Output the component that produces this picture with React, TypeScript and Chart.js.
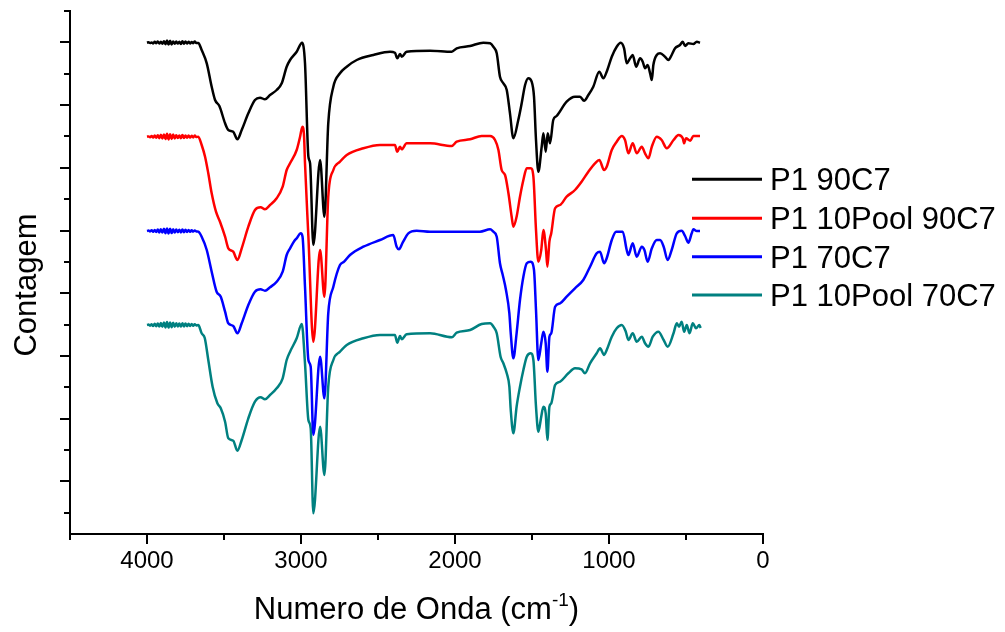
import { useEffect, useRef } from 'react';
import { Chart, registerables } from 'chart.js';

Chart.register(...registerables);

// ---- Data (wavenumber in cm^-1, intensity in arbitrary counts) ----
const noiseWn = [4000, 3990, 3980, 3970, 3960, 3950, 3940, 3930, 3920, 3910, 3900, 3890, 3880, 3870, 3860, 3850, 3840, 3830, 3820, 3810, 3800, 3790, 3780, 3770, 3760, 3750, 3740, 3730, 3720, 3710, 3700, 3690, 3680];

const blackNoise = [501.3, 501.8, 500.9, 501.6, 500.6, 502.2, 500.8, 502.5, 500.5, 502.3, 500.2, 502.8, 499.8, 503.4, 499.4, 503.2, 499.5, 502.6, 500.2, 502.4, 500.4, 502.2, 500.0, 502.8, 500.2, 502.6, 500.4, 502.2, 500.6, 502.0, 500.8, 502.4, 501.0];
const blackWn = [...noiseWn, 3667, 3645, 3612, 3580, 3558, 3530, 3493, 3472, 3440, 3413, 3385, 3342, 3299, 3266, 3234, 3201, 3158, 3125, 3093, 3071, 3028, 2993, 2974, 2952, 2941, 2920, 2876, 2848, 2823, 2790, 2747, 2703, 2638, 2530, 2422, 2390, 2375, 2357, 2346, 2314, 2162, 2021, 1989, 1902, 1816, 1772, 1751, 1729, 1708, 1686, 1664, 1643, 1621, 1589, 1567, 1545, 1524, 1502, 1487, 1474, 1459, 1437, 1426, 1411, 1398, 1383, 1362, 1340, 1275, 1221, 1188, 1162, 1134, 1102, 1063, 1037, 1015, 982, 950, 924, 902, 885, 863, 846, 824, 798, 781, 766, 749, 733, 722, 712, 690, 668, 636, 614, 593, 571, 539, 521, 506, 485, 452, 430, 409];
const blackVal = [...blackNoise, 501, 494, 480.7, 457.3, 444, 438, 420.7, 414, 412.3, 404.7, 414, 430.7, 444, 446.3, 444.7, 449, 454, 460.7, 477.3, 484, 492.3, 501.3, 480.7, 387.3, 380.7, 299, 384, 327.3, 420.7, 457.3, 470.7, 477.3, 484, 489, 492.3, 491.3, 485.7, 490, 487.3, 492.3, 493.3, 492.3, 495.7, 498, 501.3, 500.7, 497.3, 490.7, 467.3, 460.7, 454, 430.7, 405.7, 424, 440.7, 459, 465.7, 462.3, 447.3, 404, 372.3, 397.3, 410.7, 392.3, 410.7, 400.7, 424, 428, 442.3, 447.3, 447.3, 443.3, 449, 457.3, 472.3, 465.7, 472.3, 487.3, 497.3, 501.3, 495.7, 480.7, 485.7, 489, 477.3, 485.7, 482.3, 475.7, 479, 470.7, 464, 479, 489, 490.7, 487.3, 484, 489, 495.7, 499, 502.3, 498, 500.7, 500, 502.3, 501.3];

const redNoise = [407.3, 407.6, 406.8, 408.0, 406.4, 408.4, 406.2, 408.8, 405.8, 409.2, 405.6, 409.6, 405.0, 410.2, 404.6, 409.8, 405.0, 409.4, 405.6, 408.8, 406.0, 408.6, 405.8, 409.0, 406.0, 408.6, 406.2, 408.4, 406.4, 408.2, 406.6, 408.4, 407.0];
const redWn = [...noiseWn, 3667, 3645, 3623, 3602, 3580, 3552, 3526, 3493, 3472, 3440, 3413, 3385, 3342, 3299, 3262, 3234, 3201, 3158, 3119, 3093, 3071, 3028, 3006, 2991, 2980, 2974, 2952, 2920, 2876, 2848, 2823, 2790, 2747, 2703, 2595, 2487, 2390, 2375, 2357, 2346, 2314, 2162, 2021, 1989, 1902, 1827, 1772, 1740, 1718, 1697, 1675, 1653, 1632, 1621, 1600, 1578, 1556, 1534, 1508, 1491, 1474, 1459, 1440, 1426, 1409, 1400, 1387, 1375, 1350, 1318, 1275, 1221, 1178, 1134, 1091, 1063, 1032, 1015, 982, 950, 917, 896, 874, 846, 820, 787, 766, 744, 722, 690, 658, 625, 581, 549, 521, 512, 500, 472, 452, 409];
const redVal = [...redNoise, 407.3, 399, 387.3, 370.7, 350.7, 332.3, 322.3, 307.3, 295.7, 292.3, 284, 295.7, 317.3, 334, 336.7, 334.7, 339, 345.7, 357.3, 374, 380.7, 394, 407.3, 417.3, 407.3, 380.7, 307.3, 202.3, 294, 247.3, 347.3, 374, 382.3, 389, 395.7, 399, 399, 392.3, 397.3, 394.7, 400.7, 400.7, 398, 402.3, 404.7, 408, 408, 404, 394, 374, 369, 350.7, 327.3, 317.3, 327.3, 347.3, 364, 375.7, 375.7, 367.3, 314, 282.3, 294, 314, 294, 277.3, 302.3, 310.7, 335.7, 339, 347.3, 354, 362.3, 372.3, 380.7, 384, 374, 377.3, 394, 402.3, 408, 404, 390.7, 400.7, 390.7, 397.3, 390.7, 385.7, 397.3, 407.3, 404, 395.7, 404, 409, 405.7, 400.7, 405.7, 403.3, 408, 408];

const blueNoise = [313.0, 313.4, 312.6, 313.8, 312.2, 314.0, 312.0, 314.4, 311.6, 314.8, 311.4, 315.2, 310.8, 315.6, 310.6, 315.2, 311.0, 314.8, 311.4, 314.4, 311.8, 314.2, 311.6, 314.6, 311.8, 314.2, 312.0, 314.0, 312.2, 313.8, 312.4, 313.6, 312.6];
const blueWn = [...noiseWn, 3667, 3645, 3612, 3580, 3548, 3521, 3493, 3472, 3440, 3413, 3385, 3342, 3299, 3262, 3234, 3201, 3158, 3119, 3093, 3071, 3039, 3028, 3002, 2990, 2974, 2952, 2937, 2920, 2876, 2848, 2823, 2790, 2747, 2720, 2682, 2595, 2487, 2401, 2379, 2364, 2340, 2303, 2249, 2162, 1838, 1772, 1751, 1729, 1708, 1690, 1669, 1647, 1638, 1621, 1600, 1578, 1556, 1534, 1508, 1487, 1474, 1459, 1440, 1426, 1411, 1400, 1387, 1375, 1350, 1318, 1275, 1221, 1167, 1123, 1080, 1058, 1032, 1015, 982, 954, 911, 885, 874, 846, 820, 787, 770, 749, 722, 690, 668, 645, 619, 593, 560, 528, 506, 485, 463, 452, 430, 409];
const blueVal = [...blueNoise, 312.3, 307.3, 294, 272.3, 252.3, 247.3, 232.3, 220.7, 218, 210.7, 220.7, 239, 252.3, 254.7, 253.3, 256.7, 262.3, 272.3, 289, 295.7, 304, 305.7, 310.7, 307.3, 257.3, 184, 177.3, 109, 187.3, 145.7, 230.7, 257.3, 279, 282.3, 289, 297.3, 304, 309, 297.3, 294.7, 301.3, 310.7, 313.3, 312.3, 312.3, 314.7, 312.3, 307.3, 280.7, 269, 254, 230.7, 210.7, 185.7, 210.7, 244, 267.3, 280.7, 282.3, 274, 234, 184, 200.7, 212.3, 200.7, 172.3, 207.3, 210.7, 237.3, 240.7, 247.3, 255.7, 264, 277.3, 290.7, 292.3, 280.7, 285.7, 304, 312.3, 312.3, 294, 289, 300.7, 287.3, 297.3, 294, 282.3, 295.7, 304, 304, 297.3, 284, 294, 310.7, 313.3, 308, 301.3, 310.7, 314.7, 313, 313];

const tealNoise = [219.0, 219.4, 218.4, 219.8, 218.0, 220.2, 217.8, 220.6, 217.4, 221.0, 217.2, 221.4, 216.6, 222.0, 216.4, 221.6, 216.8, 221.2, 217.2, 220.8, 217.6, 220.4, 217.4, 220.8, 217.6, 220.4, 217.8, 220.2, 218.0, 220.0, 218.2, 219.8, 218.6];
const tealWn = [...noiseWn, 3667, 3645, 3625, 3602, 3574, 3543, 3521, 3493, 3472, 3440, 3413, 3385, 3342, 3299, 3262, 3234, 3201, 3158, 3119, 3093, 3071, 3028, 2995, 2974, 2952, 2937, 2920, 2876, 2848, 2823, 2790, 2747, 2703, 2595, 2487, 2390, 2375, 2357, 2346, 2314, 2162, 2021, 1989, 1902, 1827, 1772, 1750, 1729, 1704, 1686, 1664, 1647, 1638, 1621, 1600, 1578, 1556, 1534, 1508, 1491, 1474, 1459, 1440, 1426, 1411, 1400, 1387, 1375, 1350, 1318, 1264, 1221, 1178, 1156, 1123, 1080, 1058, 1032, 1015, 982, 950, 917, 891, 874, 846, 820, 787, 766, 744, 716, 679, 645, 619, 581, 560, 545, 528, 512, 495, 477, 456, 435, 413, 405];
const tealVal = [...tealNoise, 219, 210.7, 206, 184, 157.3, 140.7, 135.7, 122.3, 105.7, 103.3, 93.3, 104, 125.7, 142.3, 146.7, 144.7, 149, 155.7, 165.7, 184, 192.3, 205.7, 220, 180.7, 124, 115.7, 30.7, 117.3, 69, 157.3, 184, 192.3, 199, 205.7, 209, 209, 201.3, 208, 204.7, 209.7, 210.7, 206.7, 211.3, 214, 220, 220.7, 217.3, 210.7, 187.3, 180.7, 170.7, 157.3, 134, 110.7, 137.3, 157.3, 174, 187.3, 190.7, 184, 137.3, 112.3, 127.3, 137.3, 130.7, 104, 137.3, 140.7, 159, 162.3, 170.7, 175.7, 174.7, 170.7, 180.7, 190.7, 195.7, 189, 194, 207.3, 215.7, 219, 212.3, 204, 210.7, 202.3, 207.3, 200.7, 197.3, 207.3, 212.3, 204, 197.3, 210.7, 220.7, 217.3, 222.3, 212.3, 219, 210.7, 220.7, 215.7, 219, 216];

const seriesLabels = ['P1 90C7', 'P1 10Pool 90C7', 'P1 70C7', 'P1 10Pool 70C7'];
const seriesColors = ['#000000', '#ff0000', '#0000ff', '#008080'];

const xMajorTicks = [4000, 3000, 2000, 1000, 0];
const xMinorTicks = [4500, 3500, 2500, 1500, 500];
const yMajorTicks = [62.7, 125.4, 188.1, 250.8, 313.5, 376.2, 438.9, 501.6];
const yMinorTicks = [31.35, 94.05, 156.75, 219.45, 282.15, 344.85, 407.55, 470.25, 532.95];

const xTitle = 'Numero de Onda (cm';
const xTitleSup = '-1';
const yTitle = 'Contagem';

const FONT = "'Liberation Sans', Arial, sans-serif";

function toPoints(xs: number[], ys: number[]) {
  return xs.map((x, i) => ({ x, y: ys[i] }));
}

const decorPlugin = {
  id: 'decor',
  afterDraw(chart: any) {
    const ctx = chart.ctx;
    const xs = chart.scales.x;
    const ys = chart.scales.y;
    const area = chart.chartArea;
    ctx.save();
    ctx.strokeStyle = '#000';
    ctx.lineWidth = 2;
    ctx.lineCap = 'butt';
    const drawX = (v: number, len: number) => {
      const px = Math.round(xs.getPixelForValue(v));
      ctx.beginPath();
      ctx.moveTo(px, area.bottom);
      ctx.lineTo(px, area.bottom + len);
      ctx.stroke();
    };
    xMajorTicks.forEach((v) => drawX(v, 10));
    xMinorTicks.forEach((v) => drawX(v, 6));
    const drawY = (v: number, len: number) => {
      const py = Math.round(ys.getPixelForValue(v));
      ctx.beginPath();
      ctx.moveTo(area.left, py);
      ctx.lineTo(area.left - len, py);
      ctx.stroke();
    };
    yMajorTicks.forEach((v) => drawY(v, 10));
    yMinorTicks.forEach((v) => drawY(v, 6));

    ctx.fillStyle = '#000';
    ctx.textBaseline = 'alphabetic';
    ctx.textAlign = 'left';
    const big = `31px ${FONT}`;
    const small = `19px ${FONT}`;
    ctx.font = big;
    const w1 = ctx.measureText(xTitle).width;
    const w3 = ctx.measureText(')').width;
    ctx.font = small;
    const w2 = ctx.measureText(xTitleSup).width;
    const total = w1 + w2 + w3;
    const cx = (area.left + area.right) / 2;
    let sx = cx - total / 2;
    const base = 619;
    ctx.font = big;
    ctx.fillText(xTitle, sx, base);
    sx += w1;
    ctx.font = small;
    ctx.fillText(xTitleSup, sx, base - 13);
    sx += w2;
    ctx.font = big;
    ctx.fillText(')', sx, base);

    ctx.save();
    ctx.translate(36, 285);
    ctx.rotate(-Math.PI / 2);
    ctx.textAlign = 'center';
    ctx.textBaseline = 'alphabetic';
    ctx.font = big;
    ctx.fillText(yTitle, 0, 0);
    ctx.restore();

    const legendY = [179.3, 218.3, 256.7, 295];
    chart.data.datasets.forEach((ds: any, i: number) => {
      const y = legendY[i];
      ctx.strokeStyle = ds.borderColor;
      ctx.lineWidth = 3;
      ctx.beginPath();
      ctx.moveTo(692, y);
      ctx.lineTo(762, y);
      ctx.stroke();
      ctx.fillStyle = '#000';
      ctx.font = big;
      ctx.textAlign = 'left';
      ctx.textBaseline = 'alphabetic';
      ctx.fillText(ds.label, 770, y + 11);
    });
    ctx.restore();
  },
};

export default function App() {
  const ref = useRef<HTMLCanvasElement | null>(null);
  useEffect(() => {
    if (!ref.current) return;
    const series = [
      toPoints(blackWn, blackVal),
      toPoints(redWn, redVal),
      toPoints(blueWn, blueVal),
      toPoints(tealWn, tealVal),
    ];
    const chart = new Chart(ref.current, {
      type: 'line',
      data: {
        datasets: series.map((pts, i) => ({
          label: seriesLabels[i],
          data: pts,
          borderColor: seriesColors[i],
          backgroundColor: seriesColors[i],
          borderWidth: 2.5,
          pointRadius: 0,
          fill: false,
          cubicInterpolationMode: 'monotone' as const,
        })),
      },
      options: {
        responsive: false,
        animation: false,
        layout: { padding: { top: 11, right: 242, left: 0, bottom: 0 } },
        plugins: { legend: { display: false }, tooltip: { enabled: false } },
        scales: {
          x: {
            type: 'linear',
            min: 0,
            max: 4500,
            reverse: true,
            position: 'bottom',
            afterBuildTicks: (scale: any) => {
              scale.ticks = xMajorTicks.map((v) => ({ value: v }));
            },
            afterFit: (scale: any) => {
              scale.height = 98;
            },
            ticks: {
              autoSkip: false,
              maxRotation: 0,
              padding: 13,
              color: '#000',
              font: { family: FONT, size: 24 },
              callback: (v: any) => String(v),
            },
            grid: { display: false, drawTicks: false },
            border: { display: true, color: '#000', width: 2 },
          },
          y: {
            type: 'linear',
            min: 10,
            max: 533,
            afterFit: (scale: any) => {
              scale.width = 70;
            },
            ticks: { display: false },
            grid: { display: false, drawTicks: false },
            border: { display: true, color: '#000', width: 2 },
          },
        },
      },
      plugins: [decorPlugin],
    });
    return () => chart.destroy();
  }, []);
  return (
    <div style={{ position: 'absolute', left: 0, top: 0, width: 1005, height: 632, background: '#fff' }}>
      <canvas ref={ref} width={1005} height={632} style={{ width: 1005, height: 632 }} />
    </div>
  );
}
